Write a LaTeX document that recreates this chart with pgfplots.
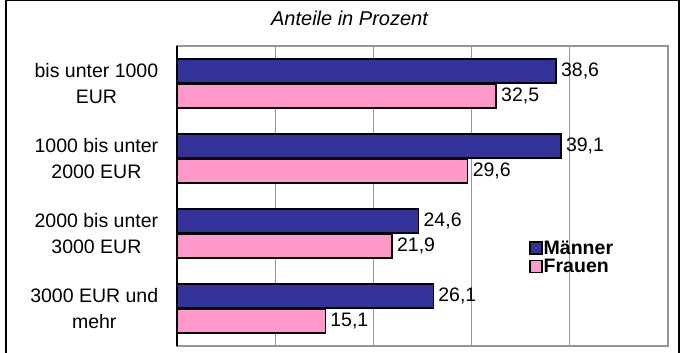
\documentclass[border=0pt]{standalone}
\usepackage{pgfplots}
\pgfplotsset{compat=1.18}
\usepackage{fontspec}
\setmainfont{Liberation Sans}
\definecolor{mblue}{RGB}{51,51,153}
\definecolor{fpink}{RGB}{255,153,204}
\definecolor{gridgray}{RGB}{150,150,150}
\begin{document}
\begin{tikzpicture}[x=1pt,y=1pt]
\draw[black, line width=1.5pt] (6,0) -- (6,352.5) -- (679,352.5) -- (679,0);
\node[font=\fontsize{20}{22}\selectfont\itshape] at (349.5,335) {Anteile in Prozent};
\begin{axis}[
  at={(177pt,7pt)}, anchor=south west,
  scale only axis, width=491pt, height=300pt,
  xbar, xmin=0, xmax=50, ymin=-0.5, ymax=3.5,
  bar width=24pt,
  xtick={0,10,20,30,40,50}, xticklabels={},
  xmajorgrids, major grid style={gridgray, line width=1.3pt},
  major x tick style={draw=none},
  axis line style={gridgray, line width=1.3pt},
  ytick={0,1,2,3},
  yticklabels={{3000 EUR und\\mehr},{2000 bis unter\\3000 EUR},{1000 bis unter\\2000 EUR},{bis unter 1000\\EUR}},
  yticklabel style={align=center, font=\fontsize{19.5}{25.7}\selectfont, xshift=-11pt},
  major y tick style={draw=none},
  extra y ticks={-0.5,0.5,1.5,2.5,3.5},
  extra y tick labels={},
  extra y tick style={major tick length=6pt, tick align=outside, major tick style={black, line width=1.5pt}, grid=none},
  nodes near coords,
  nodes near coords style={font=\fontsize{19.5}{22}\selectfont, /pgf/number format/assume math mode=true, /pgf/number format/use comma, /pgf/number format/fixed, /pgf/number format/precision=1, /pgf/number format/fixed zerofill, anchor=west, xshift=1pt},
  legend style={at={(0.717,0.355)}, anchor=north west, draw=none, fill=none,
    font=\fontsize{19.5}{19}\selectfont\bfseries, row sep=1.5pt, inner sep=0pt,
    nodes={inner sep=1pt}},
  legend image code/.code={\draw[#1, draw=black, line width=1.5pt] (0pt,-6pt) rectangle (12pt,6pt);},
  legend cell align=left,
  clip=false,
]
\addplot[fill=mblue, draw=black, line width=1.5pt, bar shift=12.5pt] coordinates {(26.1,0) (24.6,1) (39.1,2) (38.6,3)};
\addplot[fill=fpink, draw=black, line width=1.5pt, bar shift=-12.5pt] coordinates {(15.1,0) (21.9,1) (29.6,2) (32.5,3)};
\legend{M\"anner, Frauen}
\draw[black, line width=1.8pt] (axis cs:0,-0.5) -- (axis cs:0,3.5);
\end{axis}
\pgfresetboundingbox
\useasboundingbox (0,0) rectangle (681,353);
\end{tikzpicture}
\end{document}
